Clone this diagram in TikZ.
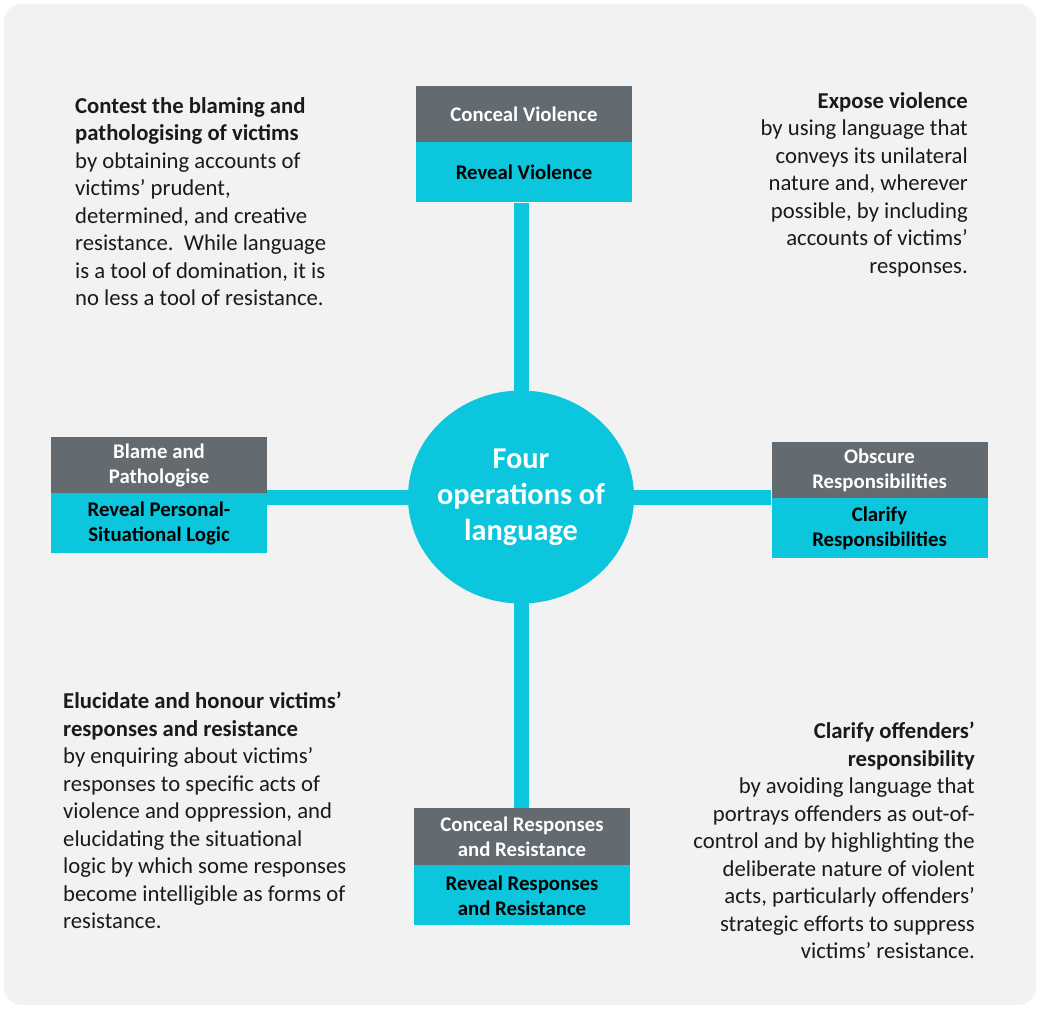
\documentclass[tikz,border=0pt]{standalone}
\usepackage{fontspec}
\setmainfont{Carlito}
\usepackage{tikz}
\usetikzlibrary{shapes.geometric, positioning}
\definecolor{mybg}{RGB}{242,242,242}
\definecolor{mygray}{RGB}{99,106,112}
\definecolor{mycyan}{RGB}{11,198,220}
\definecolor{mytext}{RGB}{26,26,26}
\tikzset{
  hdr/.style={rectangle, fill=mygray, text=white, minimum width=216pt,
    minimum height=56pt, inner sep=0pt, align=center,
    font=\fontsize{20.8}{25}\selectfont\bfseries},
  rev/.style={rectangle, fill=mycyan, text=black, minimum width=216pt,
    minimum height=60pt, inner sep=0pt, align=center,
    font=\fontsize{20.8}{25}\selectfont\bfseries},
  link/.style={line width=15pt, color=mycyan},
  note/.style={inner sep=0pt, text=mytext, font=\fontsize{22.7}{27.5}\selectfont}
}

\begin{document}
\begin{tikzpicture}[x=1pt, y=-1pt]
  % Page and grey panel
  \fill[white] (0,0) rectangle (1040,1009);
  \useasboundingbox (0,0) rectangle (1040,1009);
  \fill[mybg, rounded corners=18pt] (4,4) rectangle (1036,1005);

  % Centre circle
  \node[ellipse, fill=mycyan, minimum width=226pt, minimum height=213pt,
    inner xsep=-12pt, inner ysep=0pt, text=white, align=center,
    font=\fontsize{30.3}{36}\selectfont\bfseries] (four) at (521,497)
    {Four\\operations of\\language};

  % Top box
  \node[hdr] (concealv) at (524,114) {Conceal Violence};
  \node[rev, below=0pt of concealv] (revealv) {Reveal Violence};

  % Left box
  \node[hdr] (blame) at (159,465) {Blame and\\Pathologise};
  \node[rev, below=0pt of blame] (personal) {Reveal Personal-\\Situational Logic};

  % Right box
  \node[hdr] (obscure) at (879.5,470) {Obscure\\Responsibilities};
  \node[rev, below=0pt of obscure] (clarify) {Clarify\\Responsibilities};

  % Bottom box
  \node[hdr, minimum height=57pt] (concealr) at (522,836.5) {Conceal Responses\\and Resistance};
  \node[rev, below=0pt of concealr] (revealr) {Reveal Responses\\and Resistance};

  % Connectors from circle to boxes
  \draw[link] ([yshift=-3pt]four.north) -- (four.north |- revealv.south);
  \draw[link] ([xshift=3pt]four.west) -- (four.west -| blame.east);
  \draw[link] ([xshift=-3pt]four.east) -- (four.east -| obscure.west);
  \draw[link] ([yshift=3pt]four.south) -- (four.south |- concealr.north);

  % Descriptions
  \node[note, anchor=north west, align=left] (contest) at (75,97)
    {\textbf{Contest the blaming and}\\
     \textbf{pathologising of victims}\\
     by obtaining accounts of\\
     victims’ prudent,\\
     determined, and creative\\
     resistance.\ \ While language\\
     is a tool of domination, it is\\
     no less a tool of resistance.};
  \node[note, anchor=north east, align=right] (expose) at (968,92)
    {\textbf{Expose violence}\\
     by using language that\\
     conveys its unilateral\\
     nature and, wherever\\
     possible, by including\\
     accounts of victims’\\
     responses.};
  \node[note, anchor=north west, align=left] (elucidate) at (63,692)
    {\textbf{Elucidate and honour victims’}\\
     \textbf{responses and resistance}\\
     by enquiring about victims’\\
     responses to specific acts of\\
     violence and oppression, and\\
     elucidating the situational\\
     logic by which some responses\\
     become intelligible as forms of\\
     resistance.};
  \node[note, anchor=north east, align=right] (offenders) at (975,722)
    {\textbf{Clarify offenders’}\\
     \textbf{responsibility}\\
     by avoiding language that\\
     portrays offenders as out-of-\\
     control and by highlighting the\\
     deliberate nature of violent\\
     acts, particularly offenders’\\
     strategic efforts to suppress\\
     victims’ resistance.};
\end{tikzpicture}
\end{document}
